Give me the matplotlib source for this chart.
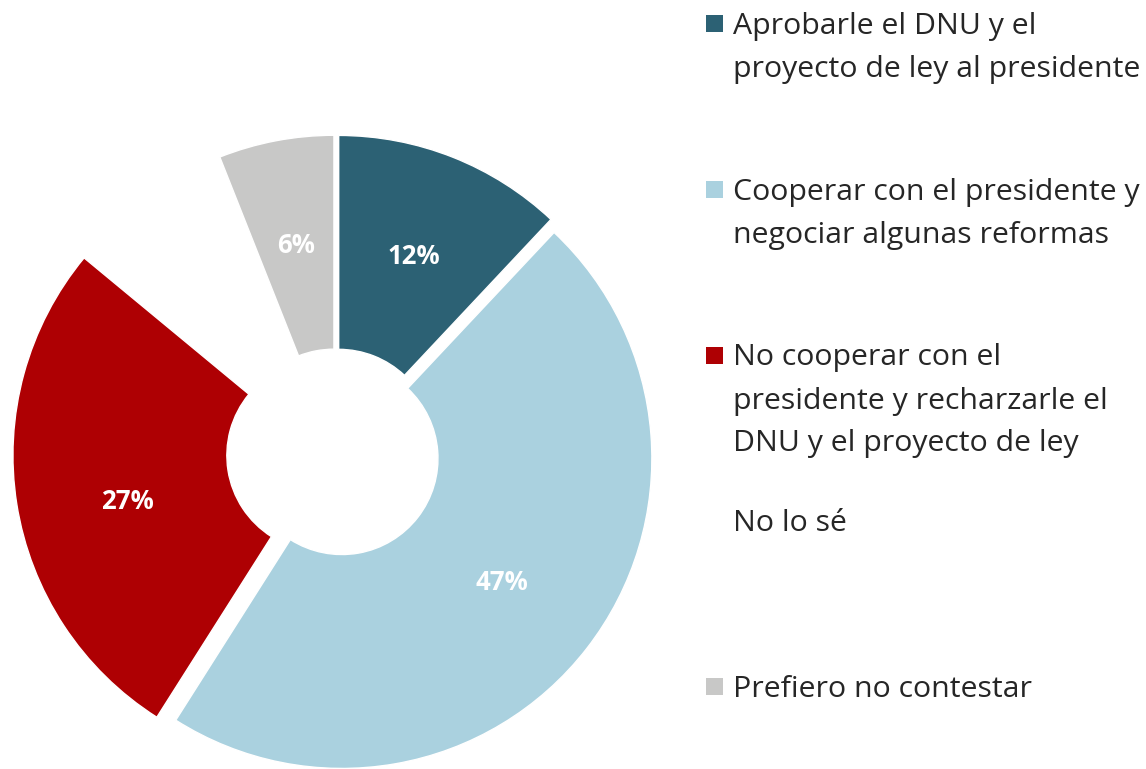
import matplotlib
matplotlib.use("Agg")
import matplotlib.pyplot as plt
from matplotlib.patches import Rectangle

# Survey answers and their shares (%)
categories = [
    "Aprobarle el DNU y el\nproyecto de ley al presidente",
    "Cooperar con el presidente y\nnegociar algunas reformas",
    "No cooperar con el\npresidente y recharzarle el\nDNU y el proyecto de ley",
    "No lo sé",
    "Prefiero no contestar",
]
shares = [12, 47, 27, 8, 6]
colors = ["#2C6174", "#AAD1DF", "#AE0003", "#FFFFFF", "#C8C8C7"]
explode = [0.028, 0.026, 0.041, 0.0, 0.027]
show_pct = [True, True, True, False, True]

W, H = 1146, 769
FONT = "Open Sans"
TEXT_COLOR = "#262626"

fig = plt.figure(figsize=(W / 100, H / 100), dpi=100)
fig.patch.set_facecolor("white")
ax = fig.add_axes([0, 0, 1, 1])

wedges, texts, autotexts = ax.pie(
    shares,
    colors=colors,
    explode=explode,
    startangle=90,
    counterclock=False,
    radius=1.0,
    autopct=lambda p: f"{p:.0f}%",
    pctdistance=0.655,
    wedgeprops=dict(width=0.69, edgecolor="white", linewidth=1.0),
    textprops=dict(color="white", fontsize=18.5, fontweight="bold", family=FONT),
)
for t, show in zip(autotexts, show_pct):
    t.set_visible(show)

# the label of the large red segment sits a little lower than its mid-angle
px, py = autotexts[2].get_position()
autotexts[2].set_position((px + 0.015, py - 0.045))

# donut placement: 1 data unit = R_PX pixels
R_PX = 310.0
cx, cy = 335.5, H - 453.5
ax.set_xlim(-cx / R_PX, (W - cx) / R_PX)
ax.set_ylim(-cy / R_PX, (H - cy) / R_PX)
ax.set_aspect("auto")
ax.axis("off")

# legend drawn as squares + text lines, evenly spaced entries
box = 17.0
box_cx = 714.5
text_x = 733.0
first_baseline = 34.0
entry_step = 165.75
line_step = 43.0
for i, (label, col) in enumerate(zip(categories, colors)):
    base = first_baseline + i * entry_step
    center_y = base - 10.5
    fig.patches.append(
        Rectangle(
            ((box_cx - box / 2) / W, 1 - (center_y + box / 2) / H),
            box / W,
            box / H,
            transform=fig.transFigure,
            facecolor=col,
            edgecolor="none",
        )
    )
    for j, line in enumerate(label.split("\n")):
        fig.text(
            text_x / W,
            1 - (base + j * line_step) / H,
            line,
            ha="left",
            va="baseline",
            fontsize=21.8,
            family=FONT,
            color=TEXT_COLOR,
        )

fig.savefig("out.png", dpi=100, facecolor="white")
